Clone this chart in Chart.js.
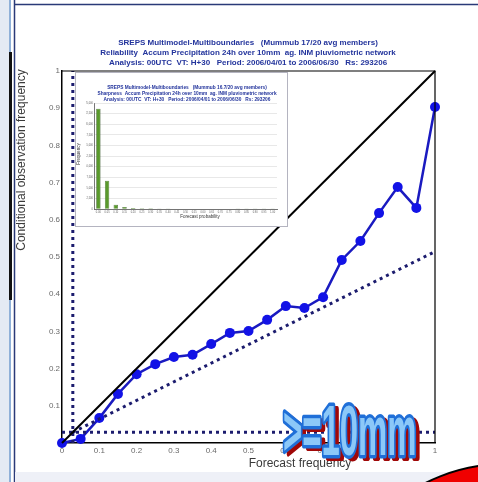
<!DOCTYPE html>
<html>
<head>
<meta charset="utf-8">
<script src="https://cdn.jsdelivr.net/npm/chart.js@4/dist/chart.umd.min.js"></script>
<style>
  html, body { margin: 0; padding: 0; background: #ffffff; }
  #wrap { position: relative; width: 478px; height: 482px; overflow: hidden; }
  #main { position: absolute; left: 0; top: 0; }
  #sharp { position: absolute; left: 75px; top: 72px; }
</style>
</head>
<body>
<div id="wrap">
  <canvas id="main" width="478" height="482"></canvas>
  <canvas id="sharp" width="213" height="155"></canvas>
</div>
<script>
// Reliability diagram data: forecast probability bins and observed frequency
const forecastProb = [0, 0.05, 0.1, 0.15, 0.2, 0.25, 0.3, 0.35, 0.4, 0.45, 0.5,
                      0.55, 0.6, 0.65, 0.7, 0.75, 0.8, 0.85, 0.9, 0.95, 1];
const obsFreq = [0, 0.011, 0.067, 0.132, 0.185, 0.212, 0.231, 0.237, 0.266, 0.296, 0.301,
                 0.331, 0.368, 0.363, 0.392, 0.492, 0.543, 0.618, 0.688, 0.632, 0.903];
// Sample climatology (observed base rate)
const climFreq = 0.029;
const axisTicks = [0, 0.1, 0.2, 0.3, 0.4, 0.5, 0.6, 0.7, 0.8, 0.9, 1];

// Sharpness histogram: number of forecasts in each probability bin
const sharpLabels = ['0.00', '0.05', '0.10', '0.15', '0.20', '0.25', '0.30', '0.35', '0.40', '0.45', '0.50',
                     '0.55', '0.60', '0.65', '0.70', '0.75', '0.80', '0.85', '0.90', '0.95', '1.00'];
const sharpCounts = [23650, 6680, 1000, 500, 250, 200, 170, 100, 100, 75, 70,
                     50, 45, 40, 35, 30, 25, 20, 20, 15, 10];
const sharpTicks = [0, 2500, 5000, 7500, 10000, 12500, 15000, 17500, 20000, 22500, 25000];

const mainTitle = [
  'SREPS Multimodel-Multiboundaries   (Mummub 17/20 avg members)',
  'Reliability  Accum Precipitation 24h over 10mm  ag. INM pluviometric network',
  'Analysis: 00UTC  VT: H+30   Period: 2006/04/01 to 2006/06/30   Rs: 293206'
];
const sharpTitle = [
  'SREPS Multimodel-Multiboundaries   (Mummub 16.7/20 avg members)',
  'Sharpness  Accum Precipitation 24h over 10mm  ag. INM pluviometric network',
  'Analysis: 00UTC  VT: H+30   Period: 2006/04/01 to 2006/06/30   Rs: 293206'
];
const thresholdLabel = '>=10mm';

const TITLE_BLUE = '#23349c';
const DOT_NAVY = '#1c1c6e';

function fmt(v) {
  const r = Math.round(v * 10) / 10;
  return r === 0 ? '0' : r === 1 ? '1' : r.toFixed(1);
}

// Slide frame, titles and axis captions around the reliability plot
const framePlugin = {
  id: 'frame',
  beforeDraw(chart) {
    const ctx = chart.ctx;
    ctx.save();
    ctx.fillStyle = '#ffffff';
    ctx.fillRect(0, 0, chart.width, chart.height);
    // left margin strip
    ctx.fillStyle = '#e4eaf4';
    ctx.fillRect(0, 0, 9, chart.height);
    ctx.fillStyle = '#8fb0d8';
    ctx.fillRect(9, 0, 2, chart.height);
    ctx.fillStyle = '#111111';
    ctx.fillRect(9, 52, 3, 248);
    // navy frame lines
    ctx.strokeStyle = '#2a3a78';
    ctx.lineWidth = 1.5;
    ctx.beginPath();
    ctx.moveTo(14.5, 0); ctx.lineTo(14.5, chart.height);
    ctx.moveTo(14.5, 4.5); ctx.lineTo(chart.width, 4.5);
    ctx.stroke();
    // bottom strip
    ctx.fillStyle = '#eef0f7';
    ctx.fillRect(15, 472, chart.width - 15, 10);
    ctx.restore();
  },
  afterDraw(chart) {
    const ctx = chart.ctx;
    const a = chart.chartArea;
    ctx.save();
    // top and right box edges
    ctx.strokeStyle = '#000000';
    ctx.lineWidth = 1.2;
    ctx.beginPath();
    ctx.moveTo(a.left, a.top); ctx.lineTo(a.right, a.top); ctx.lineTo(a.right, a.bottom);
    ctx.stroke();

    // titles
    ctx.fillStyle = TITLE_BLUE;
    ctx.font = 'bold 8px "Liberation Sans", Arial, sans-serif';
    ctx.textAlign = 'center';
    ctx.textBaseline = 'middle';
    const ty = [43, 53, 63];
    mainTitle.forEach((t, i) => ctx.fillText(t, 248, ty[i]));

    // axis captions
    ctx.fillStyle = '#3a3a3a';
    ctx.font = '12px "Liberation Sans", Arial, sans-serif';
    ctx.fillText('Forecast frequency', 300, 464);
    ctx.save();
    ctx.translate(22, 160);
    ctx.rotate(-Math.PI / 2);
    ctx.fillText('Conditional observation frequency', 0, 0);
    ctx.restore();

    // threshold badge: dark red drop shadow, light blue letters with blue outline
    ctx.save();
    ctx.translate(283, 455);
    ctx.scale(0.47, 1);
    ctx.font = 'bold 70px "Liberation Sans", Arial, sans-serif';
    ctx.textAlign = 'left';
    ctx.textBaseline = 'alphabetic';
    ctx.lineJoin = 'round';
    ctx.fillStyle = '#a00808';
    ctx.strokeStyle = '#a00808';
    ctx.lineWidth = 6;
    ctx.strokeText(thresholdLabel, 8, 3);
    ctx.fillText(thresholdLabel, 8, 3);
    ctx.lineWidth = 7;
    ctx.strokeStyle = '#1f6fd8';
    ctx.strokeText(thresholdLabel, 0, 0);
    ctx.fillStyle = '#8cc8f8';
    ctx.fillText(thresholdLabel, 0, 0);
    ctx.restore();

    // red disc at the lower right corner
    ctx.beginPath();
    ctx.arc(505, 640, 176, 0, Math.PI * 2);
    ctx.fillStyle = '#f00000';
    ctx.fill();
    ctx.lineWidth = 2;
    ctx.strokeStyle = '#000000';
    ctx.stroke();
    ctx.restore();
  }
};

new Chart(document.getElementById('main'), {
  type: 'scatter',
  data: {
    datasets: [
      {
        label: 'Perfect reliability',
        data: [{ x: 0, y: 0 }, { x: 1, y: 1 }],
        showLine: true, borderColor: '#000000', borderWidth: 2, pointRadius: 0
      },
      {
        label: 'Climatology',
        data: [{ x: 0, y: climFreq }, { x: 1, y: climFreq }],
        showLine: true, borderColor: DOT_NAVY, borderWidth: 3, borderDash: [3, 4], pointRadius: 0
      },
      {
        label: 'Climatology (forecast)',
        data: [{ x: climFreq, y: 0 }, { x: climFreq, y: 1 }],
        showLine: true, borderColor: DOT_NAVY, borderWidth: 3, borderDash: [3, 4], pointRadius: 0
      },
      {
        label: 'No skill',
        data: [{ x: climFreq, y: climFreq }, { x: 1, y: (1 + climFreq) / 2 }],
        showLine: true, borderColor: DOT_NAVY, borderWidth: 3, borderDash: [3, 4], pointRadius: 0
      },
      {
        label: 'Reliability',
        data: forecastProb.map((x, i) => ({ x, y: obsFreq[i] })),
        showLine: true, borderColor: '#1a1ac0', borderWidth: 2.5,
        pointRadius: 5, pointBackgroundColor: '#1212e6', pointBorderColor: '#1212e6', pointBorderWidth: 0
      }
    ]
  },
  options: {
    responsive: false,
    animation: false,
    devicePixelRatio: 1,
    clip: false,
    layout: { padding: { left: 48, right: 43, top: 71, bottom: 25 } },
    plugins: { legend: { display: false }, tooltip: { enabled: false }, title: { display: false } },
    scales: {
      x: {
        type: 'linear', min: 0, max: 1,
        afterBuildTicks: s => { s.ticks = axisTicks.map(v => ({ value: v })); },
        afterFit: s => { s.height = 14; },
        grid: { display: false, drawTicks: false },
        border: { display: true, color: '#000000', width: 1.5 },
        ticks: { callback: v => fmt(v), color: '#6a6a6a', padding: 3, maxRotation: 0, autoSkip: false,
                 font: { size: 8, family: '"Liberation Sans", Arial, sans-serif' } }
      },
      y: {
        type: 'linear', min: 0, max: 1,
        afterBuildTicks: s => { s.ticks = axisTicks.map(v => ({ value: v })); },
        afterFit: s => { s.width = 14; },
        grid: { display: false, drawTicks: false },
        border: { display: true, color: '#000000', width: 1.5 },
        ticks: { callback: v => (v === 0 ? '' : fmt(v)), color: '#6a6a6a', padding: 2, autoSkip: false,
                 font: { size: 8, family: '"Liberation Sans", Arial, sans-serif' } }
      }
    }
  },
  plugins: [framePlugin]
});

// Inset: sharpness histogram panel
const insetPlugin = {
  id: 'insetFrame',
  beforeDraw(chart) {
    const ctx = chart.ctx;
    ctx.save();
    ctx.fillStyle = '#ffffff';
    ctx.fillRect(0, 0, chart.width, chart.height);
    ctx.strokeStyle = '#b4b4c0';
    ctx.lineWidth = 1;
    ctx.strokeRect(0.5, 0.5, chart.width - 1, chart.height - 1);
    ctx.restore();
  },
  afterDraw(chart) {
    const ctx = chart.ctx;
    ctx.save();
    ctx.fillStyle = TITLE_BLUE;
    ctx.font = 'bold 4.8px "Liberation Sans", Arial, sans-serif';
    ctx.textAlign = 'center';
    ctx.textBaseline = 'middle';
    const ty = [16, 22, 28];
    sharpTitle.forEach((t, i) => ctx.fillText(t, 112, ty[i]));
    ctx.fillStyle = '#333333';
    ctx.font = '4.5px "Liberation Sans", Arial, sans-serif';
    ctx.fillText('Forecast probability', 125, 145);
    ctx.save();
    ctx.translate(4, 82);
    ctx.rotate(-Math.PI / 2);
    ctx.fillText('Frequency', 0, 0);
    ctx.restore();
    ctx.restore();
  }
};

new Chart(document.getElementById('sharp'), {
  type: 'bar',
  data: {
    labels: sharpLabels,
    datasets: [{
      label: 'Frequency',
      data: sharpCounts,
      backgroundColor: '#5a9a2c',
      borderColor: '#2c4e1c',
      borderWidth: 0.6,
      barPercentage: 0.5,
      categoryPercentage: 1
    }]
  },
  options: {
    responsive: false,
    animation: false,
    devicePixelRatio: 1,
    layout: { padding: { left: 11, right: 11, top: 31, bottom: 10 } },
    plugins: { legend: { display: false }, tooltip: { enabled: false } },
    scales: {
      x: {
        afterFit: s => { s.height = 8; },
        grid: { display: false, drawTicks: false },
        border: { display: true, color: '#555555', width: 0.8 },
        ticks: { color: '#666666', padding: 1.5, maxRotation: 0, autoSkip: false,
                 font: { size: 2.6, family: '"Liberation Sans", Arial, sans-serif' } }
      },
      y: {
        min: 0, max: 25000,
        afterBuildTicks: s => { s.ticks = sharpTicks.map(v => ({ value: v })); },
        afterFit: s => { s.width = 8; },
        grid: { color: '#d0d0d0', lineWidth: 0.5, borderDash: [1, 1], drawTicks: false },
        border: { display: true, color: '#555555', width: 0.8, dash: [] },
        ticks: { color: '#666666', padding: 1, autoSkip: false,
                 font: { size: 2.6, family: '"Liberation Sans", Arial, sans-serif' } }
      }
    }
  },
  plugins: [insetPlugin]
});
</script>
</body>
</html>
